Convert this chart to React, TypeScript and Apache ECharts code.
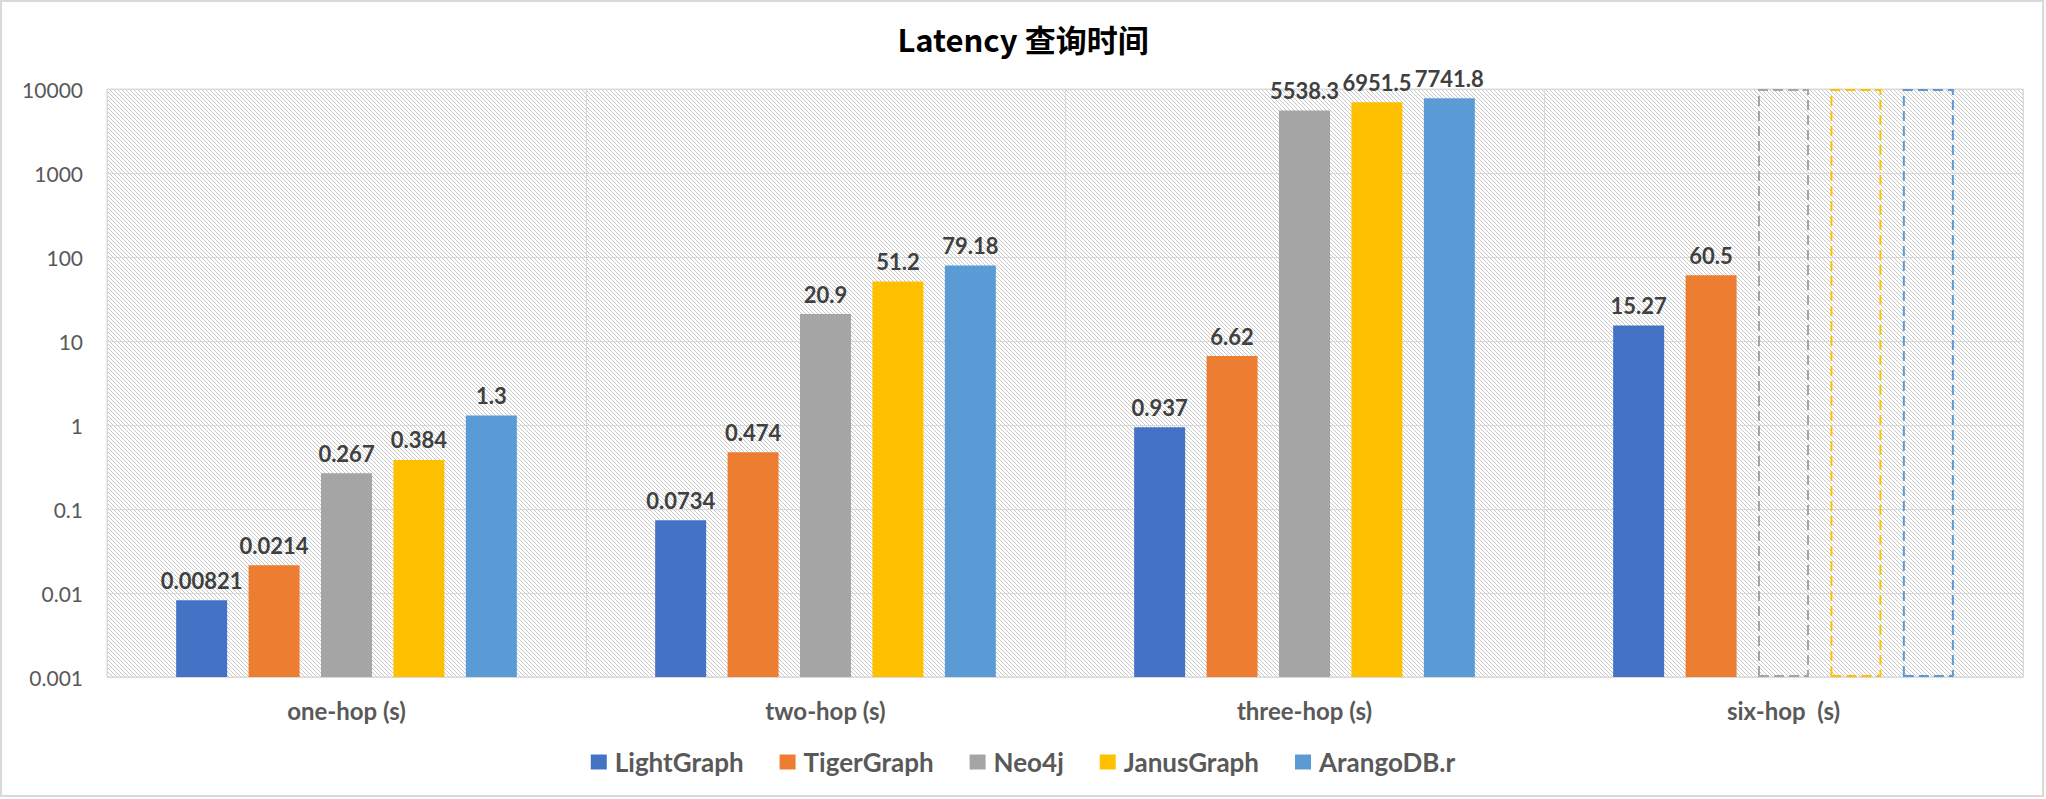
import React, { useEffect, useRef } from "react";
import * as echarts from "echarts";

const categories = ["one-hop (s)", "two-hop (s)", "three-hop (s)", "six-hop  (s)"];
const seriesNames = ["LightGraph", "TigerGraph", "Neo4j", "JanusGraph", "ArangoDB.r"];
const colors = ["#4472C4", "#ED7D31", "#A5A5A5", "#FFC000", "#5B9BD5"];

// null = no result (timed out) -> drawn as dashed empty bar up to the axis max
const lightGraph = [0.00821, 0.0734, 0.937, 15.27];
const tigerGraph = [0.0214, 0.474, 6.62, 60.5];
const neo4j = [0.267, 20.9, 5538.3, null];
const janusGraph = [0.384, 51.2, 6951.5, null];
const arangoDB = [1.3, 79.18, 7741.8, null];

const yTickLabels = ["0.001", "0.01", "0.1", "1", "10", "100", "1000", "10000"];
const Y_MIN = 0.001;
const Y_MAX = 10000;

const allSeries = [lightGraph, tigerGraph, neo4j, janusGraph, arangoDB];

function makeHatch(): HTMLCanvasElement {
  const c = document.createElement("canvas");
  c.width = 4;
  c.height = 4;
  const ctx = c.getContext("2d")!;
  ctx.fillStyle = "#ffffff";
  ctx.fillRect(0, 0, 4, 4);
  ctx.fillStyle = "#c8c8c8";
  for (let i = 0; i < 4; i++) ctx.fillRect(i, i, 1, 1);
  return c;
}

export default function App() {
  const ref = useRef<HTMLDivElement>(null);
  useEffect(() => {
    if (!ref.current) return;
    const chart = echarts.init(ref.current, undefined, { renderer: "svg" });
    const hatch = makeHatch();
    const font = "Lato, 'Noto Sans', sans-serif";

    const series = allSeries.map((arr, si) => ({
      name: seriesNames[si],
      type: "bar",
      barWidth: 51,
      barGap: "42%",
      itemStyle: { color: colors[si] },
      label: {
        show: true,
        position: "top",
        distance: 9,
        color: "#404040",
        fontFamily: font,
        fontWeight: "bold",
        fontSize: 22,
        formatter: (p: any) => String(p.value),
      },
      data: arr.map((v) =>
        v === null
          ? {
              value: Y_MAX,
              itemStyle: {
                color: "rgba(0,0,0,0)",
                borderColor: colors[si],
                borderWidth: 2,
                borderType: [10, 5],
              },
              label: { show: false },
            }
          : v
      ),
    }));

    chart.setOption({
      animation: false,
      backgroundColor: "#ffffff",
      title: {
        text: "Latency 查询时间",
        left: "center",
        top: 18,
        textStyle: {
          fontFamily: "'Noto Sans CJK SC', sans-serif",
          fontWeight: "bold",
          fontSize: 31,
          color: "#000000",
        },
      },
      grid: {
        left: 107,
        right: 23,
        top: 89,
        bottom: 122,
        show: true,
        backgroundColor: { image: hatch, repeat: "repeat", imageWidth: 4, imageHeight: 4 } as any,
        borderColor: "#d9d9d9",
        borderWidth: 1,
      },
      legend: {
        top: 744,
        left: "center",
        icon: "rect",
        itemWidth: 16,
        itemHeight: 15,
        itemGap: 36,
        data: seriesNames,
        textStyle: {
          fontFamily: font,
          fontWeight: "bold",
          fontSize: 26,
          color: "#595959",
          padding: [0, 0, 0, 3],
        },
      },
      xAxis: {
        type: "category",
        data: categories,
        axisLine: { lineStyle: { color: "#d9d9d9" } },
        axisTick: { show: false },
        splitLine: { show: true, interval: 0, lineStyle: { color: "#d9d9d9", width: 1 } },
        axisLabel: {
          margin: 21,
          fontFamily: font,
          fontWeight: "bold",
          fontSize: 24,
          color: "#595959",
        },
      },
      yAxis: {
        type: "log",
        logBase: 10,
        min: Y_MIN,
        max: Y_MAX,
        startValue: Y_MIN,
        splitNumber: 7,
        axisLine: { show: false },
        axisTick: { show: false },
        splitLine: { show: true, lineStyle: { color: "#d9d9d9", width: 1 } },
        axisLabel: {
          margin: 24,
          fontFamily: font,
          fontSize: 21,
          color: "#595959",
          formatter: (v: number) => yTickLabels[Math.round(Math.log10(v)) + 3] ?? "",
        },
      },
      series,
      graphic: [
        {
          type: "rect",
          shape: { x: 1, y: 1, width: 2042, height: 795 },
          style: { fill: "none", stroke: "#d9d9d9", lineWidth: 2 },
          silent: true,
        },
      ],
    });
    return () => chart.dispose();
  }, []);
  return (
    <div
      ref={ref}
      style={{ position: "absolute", left: 0, top: 0, width: 2046, height: 799, background: "#fff" }}
    />
  );
}
